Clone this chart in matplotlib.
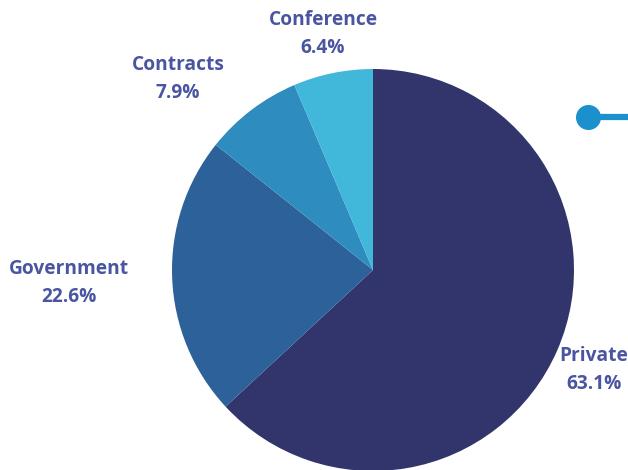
import matplotlib
matplotlib.use("Agg")
import matplotlib.pyplot as plt

categories = ["Private", "Government", "Contracts", "Conference"]
values = [63.1, 22.6, 7.9, 6.4]
colors = ["#31356b", "#2d6199", "#2e8cbe", "#41b7d9"]
label_pos = [(594, 369), (69, 282), (178, 78), (323, 33)]

fig = plt.figure(figsize=(6.28, 4.70), dpi=100)
ax = fig.add_axes([0, 0, 1, 1])
ax.pie(values, colors=colors, startangle=90, counterclock=False,
       center=(373, 470 - 270), radius=201,
       wedgeprops=dict(linewidth=0))
ax.set_xlim(0, 628)
ax.set_ylim(0, 470)
ax.set_aspect("equal")
ax.axis("off")

for cat, val, (x, y) in zip(categories, values, label_pos):
    ax.text(x, 470 - y - 1, f"{cat}\n{val:.1f}%", ha="center", va="center",
            fontsize=13.8, fontweight="bold", family=["Open Sans", "DejaVu Sans"],
            color="#4a55a2", linespacing=1.52)

# decorative marker
ax.plot([588, 640], [470 - 117, 470 - 117], color="#1a90cc", lw=4.5,
        solid_capstyle="butt", clip_on=False)
ax.plot([588], [470 - 117], "o", color="#1a90cc", markersize=17)

fig.savefig("out.png", dpi=100)
